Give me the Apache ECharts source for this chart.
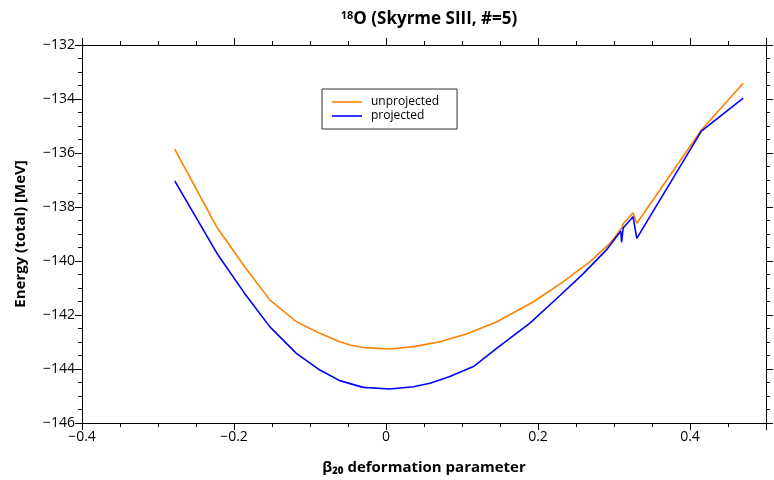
<!DOCTYPE html>
<html>
<head>
<meta charset="utf-8">
<title>18O Skyrme SIII energy curve</title>
<script src="https://cdn.jsdelivr.net/npm/echarts@6/dist/echarts.min.js"></script>
<style>
    html, body { margin: 0; padding: 0; background: #fff; }
    #energy-curve { width: 774px; height: 480px; }
</style>
</head>
<body>
<div id="energy-curve"></div>
<script>
// beta20 deformation vs total energy

// unprojected curve
var betaUnproj = [-0.278, -0.223, -0.186, -0.153, -0.118, -0.087, -0.061, -0.047, -0.028, 0.005,
    0.036, 0.071, 0.106, 0.146, 0.194, 0.233, 0.268, 0.295, 0.311, 0.312, 0.325, 0.330, 0.415, 0.470];
var energyUnproj = [-135.86, -138.73, -140.21, -141.44, -142.25, -142.68, -142.99, -143.11, -143.21, -143.26,
    -143.17, -142.99, -142.70, -142.25, -141.51, -140.77, -140.03, -139.34, -138.74, -138.62, -138.21, -138.60, -135.15, -133.42];

// projected curve
var betaProj = [-0.278, -0.221, -0.186, -0.153, -0.118, -0.087, -0.061, -0.030, 0.005, 0.036,
    0.058, 0.084, 0.115, 0.146, 0.189, 0.225, 0.260, 0.290, 0.309, 0.310, 0.312, 0.325, 0.330, 0.415, 0.470];
var energyProj = [-137.03, -139.78, -141.20, -142.43, -143.42, -144.04, -144.43, -144.68, -144.74, -144.66,
    -144.53, -144.28, -143.91, -143.23, -142.31, -141.38, -140.46, -139.59, -138.89, -139.30, -138.78, -138.36, -139.16, -135.19, -133.97];

var seriesNames = ['unprojected', 'projected'];
var seriesColors = ['#ff8000', '#0000ff'];

// x / y tick setup
var xTicks = { min: -0.4, max: 0.5, interval: 0.2 };
var yTicks = { min: -146, max: -132, interval: 2 };
var xTickLabels = ['-0.4', '-0.2', '0', '0.2', '0.4'];

var FONT = "'Open Sans', 'DejaVu Sans', sans-serif";

function pairUp(xs, ys) {
    var out = [];
    for (var i = 0; i < xs.length; i++) {
        out.push([xs[i], ys[i]]);
    }
    return out;
}

// matplotlib style minus sign
function minusFmt(value) {
    var s = (Math.round(value * 1000) / 1000).toString();
    return s.replace('-', '\u2212');
}

// only the labelled x ticks, the 0.5 edge stays blank
function xLabelFmt(value) {
    var s = (Math.round(value * 1000) / 1000).toString();
    if (xTickLabels.indexOf(s) < 0) return '';
    return s.replace('-', '\u2212');
}

function makeAxis(position, showLabels, ticks, fmt) {
    var ax = {
        type: 'value',
        position: position,
        min: ticks.min,
        max: ticks.max,
        interval: ticks.interval,
        splitLine: { show: false },
        axisLine: { show: true, onZero: false, lineStyle: { color: '#000', width: 1 } },
        axisTick: { show: true, inside: false, length: 7, lineStyle: { color: '#000', width: 1 } },
        minorTick: { show: true, splitNumber: 4, length: 4, lineStyle: { color: '#000', width: 1 } },
        minorSplitLine: { show: false },
        axisLabel: {
            show: showLabels,
            color: '#000',
            fontFamily: FONT,
            fontSize: 14,
            margin: 7,
            formatter: fmt || minusFmt
        }
    };
    return ax;
}

var chart = echarts.init(document.getElementById('energy-curve'));

var xBottom = makeAxis('bottom', true, xTicks, xLabelFmt);
xBottom.name = '\u03b2\u2082\u2080 deformation parameter';
xBottom.nameLocation = 'middle';
xBottom.nameGap = 37;
xBottom.nameTextStyle = { color: '#000', fontFamily: FONT, fontSize: 15, fontWeight: 'bold' };

var yLeft = makeAxis('left', true, yTicks);
yLeft.name = 'Energy (total) [MeV]';
yLeft.nameLocation = 'middle';
yLeft.nameGap = 54;
yLeft.nameTextStyle = { color: '#000', fontFamily: FONT, fontSize: 15, fontWeight: 'bold' };

var option = {
    animation: false,
    backgroundColor: '#fff',
    title: {
        text: '{sup|18}{main|O (Skyrme SIII, #=5)}',
        left: 424,
        textAlign: 'center',
        top: 5,
        textStyle: {
            rich: {
                sup: { fontFamily: FONT, fontSize: 11, fontWeight: 'bold', color: '#000', verticalAlign: 'top', padding: [0, 0, 7, 0] },
                main: { fontFamily: FONT, fontSize: 17, fontWeight: 'bold', color: '#000' }
            }
        }
    },
    legend: {
        data: seriesNames,
        orient: 'vertical',
        left: 322,
        top: 89,
        padding: [7, 18, 7, 10],
        itemGap: 2,
        icon: 'rect',
        itemWidth: 30,
        itemHeight: 1.6,
        borderColor: '#333',
        borderWidth: 1,
        borderRadius: 0,
        textStyle: { color: '#000', fontFamily: FONT, fontSize: 12, padding: [0, 0, 0, 4] }
    },
    grid: { left: 82, right: 8, top: 45, bottom: 57, containLabel: false },
    xAxis: [xBottom, makeAxis('top', false, xTicks)],
    yAxis: [yLeft, makeAxis('right', false, yTicks)],
    series: [
        {
            name: seriesNames[0],
            type: 'line',
            symbol: 'none',
            color: seriesColors[0],
            lineStyle: { width: 1.6 },
            data: pairUp(betaUnproj, energyUnproj)
        },
        {
            name: seriesNames[1],
            type: 'line',
            symbol: 'none',
            color: seriesColors[1],
            lineStyle: { width: 1.6 },
            data: pairUp(betaProj, energyProj)
        }
    ]
};

chart.setOption(option);
</script>
</body>
</html>
